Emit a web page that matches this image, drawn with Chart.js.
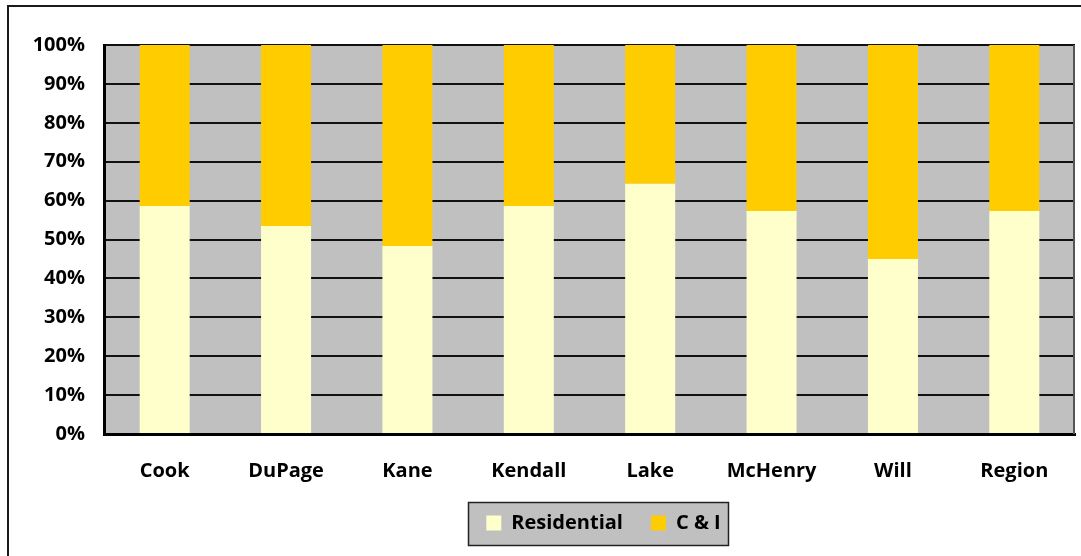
<!DOCTYPE html>
<html>
<head>
<meta charset="utf-8">
<script src="https://cdn.jsdelivr.net/npm/chart.js@4"></script>
<style>
html,body{margin:0;padding:0;background:#fff;}
#wrap{width:1081px;height:556px;position:relative;}
</style>
</head>
<body>
<div id="wrap"><canvas id="c" width="1081" height="556"></canvas></div>
<script>
const categories = ["Cook","DuPage","Kane","Kendall","Lake","McHenry","Will","Region"];
const residential = [58.6, 53.5, 48.3, 58.6, 64.3, 57.3, 45.0, 57.3];
const commercialIndustrial = [41.4, 46.5, 51.7, 41.4, 35.7, 42.7, 55.0, 42.7];
const seriesNames = ["Residential", "C & I"];
const yTicks = [0,10,20,30,40,50,60,70,80,90,100];

const FONT = "'Open Sans', 'Noto Sans', sans-serif";

const decor = {
  id: 'decor',
  afterLayout(chart) {
    const lg = chart.legend;
    if (lg) { lg.left += 14; lg.right += 14; }
  },
  beforeDraw(chart) {
    const {ctx, chartArea: a} = chart;
    ctx.save();
    ctx.fillStyle = '#fff';
    ctx.fillRect(0,0,chart.width,chart.height);
    ctx.strokeStyle = '#1a1a1a';
    ctx.lineWidth = 2;
    ctx.strokeRect(8, 6, 1200, 700);
    ctx.fillStyle = '#C0C0C0';
    ctx.fillRect(a.left, a.top, a.right - a.left, a.bottom - a.top);
    const lg = chart.legend;
    if (lg && lg.legendHitBoxes && lg.legendHitBoxes.length) {
      const hb = lg.legendHitBoxes;
      let l = Infinity, r = -Infinity, cy = 0;
      hb.forEach(h => { l = Math.min(l, h.left); r = Math.max(r, h.left + h.width); cy += h.top + h.height/2; });
      cy /= hb.length;
      const x0 = Math.round(l - 18), x1 = Math.round(r + 7);
      const y0 = Math.round(cy - 21), y1 = Math.round(cy + 22);
      ctx.fillStyle = '#C0C0C0';
      ctx.fillRect(x0, y0, x1 - x0, y1 - y0);
      ctx.strokeStyle = '#222';
      ctx.lineWidth = 1.5;
      ctx.strokeRect(x0 + 0.5, y0 + 0.5, x1 - x0, y1 - y0);
    }
    ctx.restore();
  },
  afterDraw(chart) {
    const {ctx, chartArea: a} = chart;
    ctx.save();
    ctx.strokeStyle = '#555';
    ctx.lineWidth = 2;
    ctx.beginPath();
    ctx.moveTo(a.right - 1, a.top);
    ctx.lineTo(a.right - 1, a.bottom);
    ctx.stroke();
    ctx.restore();
  }
};

new Chart(document.getElementById('c'), {
  type: 'bar',
  data: {
    labels: categories,
    datasets: [
      { label: seriesNames[0], data: residential, backgroundColor: '#FFFFCC', borderWidth: 0 },
      { label: seriesNames[1], data: commercialIndustrial, backgroundColor: '#FFCC00', borderWidth: 0 }
    ]
  },
  options: {
    responsive: false,
    animation: false,
    devicePixelRatio: 1,
    layout: { padding: { left: 0, right: 6, top: 45, bottom: 13 } },
    datasets: { bar: { categoryPercentage: 1.0, barPercentage: 0.412 } },
    scales: {
      x: {
        stacked: true,
        afterFit(s) { s.height = 51; },
        grid: { display: false, drawTicks: false },
        border: { display: true, color: '#000', width: 3 },
        ticks: { color: '#000', font: { family: FONT, size: 20, weight: 'bold' }, padding: 25, maxRotation: 0 }
      },
      y: {
        stacked: true,
        min: 0, max: 100,
        afterFit(s) { s.width = 104; },
        afterBuildTicks(s) { s.ticks = yTicks.map(v => ({ value: v })); },
        grid: { color: '#111', lineWidth: 2, drawTicks: false },
        border: { display: true, color: '#000', width: 3 },
        ticks: { color: '#000', font: { family: FONT, size: 20, weight: 'bold' }, padding: 19, callback: v => v + '%' }
      }
    },
    plugins: {
      legend: {
        position: 'bottom',
        fullSize: false,
        labels: {
          color: '#000',
          font: { family: FONT, size: 20, weight: 'bold' },
          boxWidth: 15, boxHeight: 15,
          padding: 28
        }
      },
      tooltip: { enabled: false }
    }
  },
  plugins: [decor]
});
</script>
</body>
</html>
